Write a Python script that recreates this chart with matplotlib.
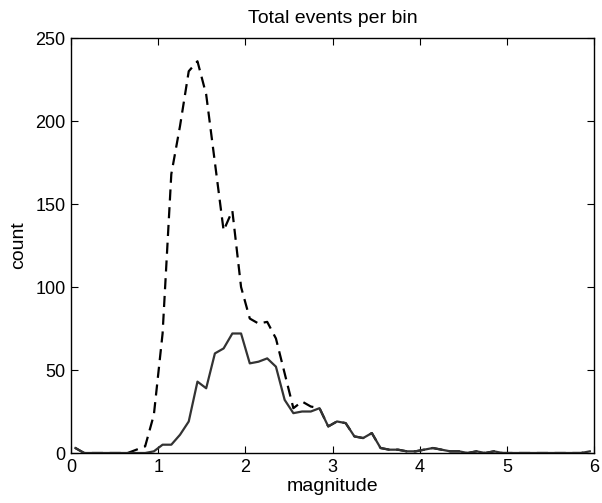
"""Histogram of event magnitudes: total vs subset counts per bin."""

import matplotlib

matplotlib.use("Agg")
import matplotlib.pyplot as plt
import numpy as np

# bin centres, 0.05 .. 5.95
magnitude = np.round(np.arange(0.05, 6.0, 0.1), 2)

# solid line (subset)
subset_counts = [
    3, 0, 0, 0, 0, 0, 0, 0, 0, 1,          # 0.05 - 0.95
    5, 5, 11, 19, 43, 39, 60, 63, 72, 72,  # 1.05 - 1.95
    54, 55, 57, 52, 32, 24, 25, 25, 27, 16,  # 2.05 - 2.95
    19, 18, 10, 9, 12, 3, 2, 2, 1, 1,      # 3.05 - 3.95
    2, 3, 2, 1, 1, 0, 1, 0, 1, 0,          # 4.05 - 4.95
    0, 0, 0, 0, 0, 0, 0, 0, 0, 1,          # 5.05 - 5.95
]

# dashed line (all events)
total_counts = [
    3, 0, 0, 0, 0, 0, 0, 2, 4, 23,
    72, 168, 197, 230, 236, 216, 175, 134, 146, 100,
    81, 78, 79, 69, 48, 27, 31, 28, 27, 16,
    19, 18, 10, 9, 12, 3, 2, 2, 1, 1,
    2, 3, 2, 1, 1, 0, 1, 0, 1, 0,
    0, 0, 0, 0, 0, 0, 0, 0, 0, 1,
]

plt.rcParams["font.family"] = ["Liberation Sans", "DejaVu Sans"]

fig = plt.figure(figsize=(6.02, 5.03), dpi=100)
ax = fig.add_axes([0.118, 0.0994, 0.869, 0.825])

ax.plot(magnitude, total_counts, color="black", linestyle=(0, (5, 3)), linewidth=1.6)
ax.plot(magnitude, subset_counts, color="#333333", linestyle="-", linewidth=1.6)

ax.set_xlim(0, 6)
ax.set_ylim(0, 250)
ax.set_xticks(range(0, 7))
ax.set_yticks(range(0, 251, 50))
ax.tick_params(direction="in", top=True, right=True, labelsize=13, length=5, pad=4)
for spine in ax.spines.values():
    spine.set_linewidth(1.0)

ax.set_title("Total events per bin", fontsize=14, pad=11)
ax.set_xlabel("magnitude", fontsize=14, labelpad=2)
ax.set_ylabel("count", fontsize=14, labelpad=6)

fig.savefig("out.png", dpi=100)
plt.close(fig)
